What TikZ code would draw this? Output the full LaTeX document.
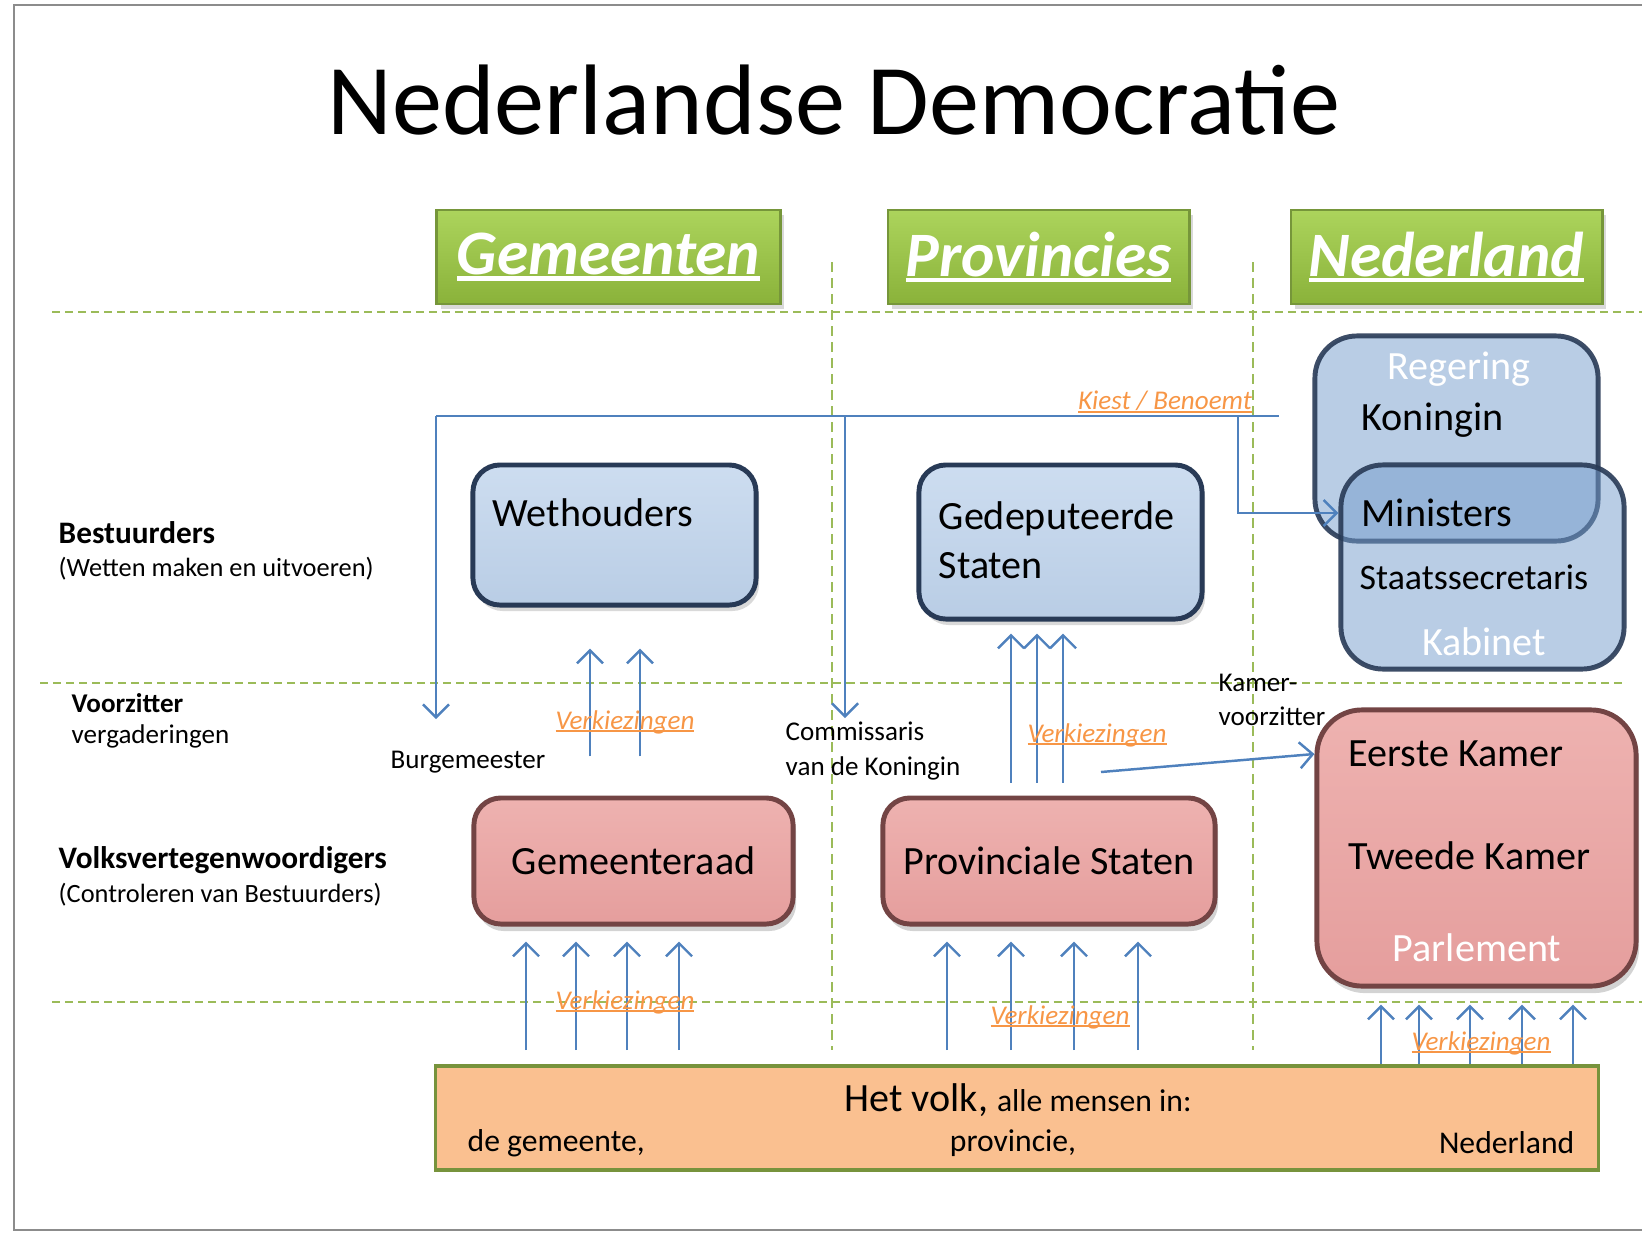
\documentclass[tikz,border=0pt]{standalone}
\usepackage{fontspec}
\setmainfont{Carlito}
\usepackage{tikz}
\usetikzlibrary{positioning,shadows,arrows.meta}
\definecolor{boxblue}{RGB}{185,205,229}
\definecolor{boxbluetop}{RGB}{205,221,240}
\definecolor{glassblue}{RGB}{115,155,203}
\definecolor{blueedge}{RGB}{40,58,86}
\definecolor{boxred}{RGB}{229,158,157}
\definecolor{boxredtop}{RGB}{238,178,176}
\definecolor{rededge}{RGB}{115,68,68}
\definecolor{lineblue}{RGB}{79,129,189}
\definecolor{dashgreen}{RGB}{155,187,89}
\definecolor{votecol}{RGB}{247,150,70}
\definecolor{peach}{RGB}{250,192,144}
\definecolor{peachedge}{RGB}{119,147,60}
\definecolor{headtop}{RGB}{172,212,92}
\definecolor{headbot}{RGB}{138,178,58}
\definecolor{headedge}{RGB}{118,150,58}
\definecolor{framegray}{RGB}{140,140,140}
\newcommand{\onderstreep}[2][0.06em]{\leavevmode\setbox0=\hbox{#2}\rlap{\rule[-0.1em]{\wd0}{#1}}\box0}

\begin{document}
\begin{tikzpicture}[x=0.01cm,y=-0.01cm,inner sep=0pt]
\tikzstyle{head}=[rectangle, minimum height=0.94cm, top color=headtop, bottom color=headbot, draw=headedge, line width=0.8pt, text=white, font=\fontsize{18pt}{20pt}\selectfont\bfseries\itshape, drop shadow={shadow xshift=0.4mm,shadow yshift=-0.5mm,opacity=0.3}]
\tikzstyle{bestuur}=[rectangle, rounded corners=0.27cm, top color=boxbluetop, bottom color=boxblue, draw=blueedge, line width=1.4pt, drop shadow={shadow xshift=0.3mm,shadow yshift=-0.6mm,opacity=0.3}]
\tikzstyle{glass}=[rectangle, rounded corners=0.42cm, fill=glassblue, fill opacity=0.5, draw=blueedge, draw opacity=0.9, line width=1.4pt]
\tikzstyle{vertegen}=[rectangle, rounded corners=0.27cm, top color=boxredtop, bottom color=boxred, draw=rededge, line width=1.4pt, font=\fontsize{11.4pt}{14pt}\selectfont, drop shadow={shadow xshift=0.3mm,shadow yshift=-0.7mm,opacity=0.35}]
\tikzstyle{txt}=[font=\fontsize{11.4pt}{14pt}\selectfont, anchor=west, align=left]
\tikzstyle{wtxt}=[font=\fontsize{11.4pt}{14pt}\selectfont, text=white]
\tikzstyle{small}=[font=\fontsize{7.7pt}{9.7pt}\selectfont, anchor=west, align=left]
\tikzstyle{rowhead}=[font=\fontsize{8.9pt}{10pt}\selectfont\bfseries, anchor=west]
\tikzstyle{rowsub}=[font=\fontsize{7.5pt}{9pt}\selectfont, anchor=west]
\tikzstyle{vote}=[font=\fontsize{7.7pt}{9pt}\selectfont\itshape, text=votecol]
\tikzstyle{connect}=[lineblue, line width=0.7pt, -{Straight Barb[length=1.3mm,width=2.6mm]}]
\tikzstyle{level}=[dashgreen, line width=0.8pt, dash pattern=on 0.08cm off 0.05cm]
\tikzstyle{column}=[dashgreen, line width=0.8pt, dash pattern=on 0.1cm off 0.06cm]
\useasboundingbox (0,0) rectangle (1642,1233);
\draw[framegray, line width=0.8pt] (1642,5) -- (14,5) -- (14,1230) -- (1642,1230);
\node[font=\fontsize{28.5pt}{34pt}\selectfont] (title) at (834,100) {Nederlandse Democratie};

% kolommen
\node[head, minimum width=3.43cm] (hgem) at (608.5,257) {\onderstreep[0.07em]{Gemeenten}};
\node[head, minimum width=3.01cm] (hprov) at (1038.5,257) {\onderstreep[0.07em]{Provincies}};
\node[head, minimum width=3.11cm] (hned) at (1446.5,257) {\onderstreep[0.07em]{Nederland}};
\draw[level] (52,312) -- (1642,312);
\draw[level] (40,683) -- (1623,683);
\draw[level] (52,1002) -- (1642,1002);
\draw[column] (832,262) -- (832,1050);
\draw[column] (1253,262) -- (1253,1050);

% rijen
\node[rowhead] (best) at (58,533) {Bestuurders};
\node[rowsub] (bestsub) at (58,569) {(Wetten maken en uitvoeren)};
\node[rowhead, font=\fontsize{7.7pt}{9pt}\selectfont\bfseries] (voorz) at (71,703) {Voorzitter};
\node[small] (verg) at (71,736) {vergaderingen};
\node[rowhead] (volksv) at (58,860) {Volksvertegenwoordigers};
\node[rowsub] (volksvsub) at (58,895) {(Controleren van Bestuurders)};

% bestuurders
\node[bestuur, minimum width=2.83cm, minimum height=1.40cm] (weth) at (614.5,535) {};
\node[txt] (wethtxt) at (492,513) {Wethouders};
\node[bestuur, minimum width=2.83cm, minimum height=1.54cm] (gs) at (1060.5,542) {};
\node[txt] (gstxt) at (938,540) {Gedeputeerde\\Staten};
\node[glass, minimum width=2.83cm, minimum height=2.05cm] (regering) at (1456.5,438.5) {};
\node[glass, minimum width=2.83cm, minimum height=2.04cm] (kabinet) at (1482.5,567) {};
\node[wtxt] (regtxt) at (1459,369) {Regering};
\node[txt] (kon) at (1361,420) {Koningin};
\node[txt] (min) at (1361,513) {Ministers};
\node[txt, font=\fontsize{10.2pt}{12pt}\selectfont] (staats) at (1359,577) {Staatssecretaris};
\node[wtxt] (kabtxt) at (1484,642) {Kabinet};

% volksvertegenwoordigers
\node[vertegen, minimum width=3.19cm, minimum height=1.26cm] (graad) at (633.5,861) {Gemeenteraad};
\node[vertegen, minimum width=3.32cm, minimum height=1.26cm] (pstaten) at (1049,861) {Provinciale Staten};
\node[vertegen, rounded corners=0.45cm, minimum width=3.19cm, minimum height=2.76cm] (parlement) at (1476.5,848) {};
\node[txt] (ek) at (1348,754) {Eerste Kamer};
\node[txt] (tk) at (1348,856) {Tweede Kamer};
\node[wtxt] (parltxt) at (1477,948) {Parlement};

% het volk
\node[rectangle, fill=peach, draw=peachedge, line width=1pt, minimum width=11.62cm, minimum height=1.04cm] (volk) at (1017,1118) {};
\node (volktxt) at (1018,1100) {\fontsize{11.4pt}{14pt}\selectfont Het volk, \fontsize{9pt}{11pt}\selectfont alle mensen in:};
\node[anchor=west, font=\fontsize{9pt}{11pt}\selectfont] (dgem) at (467,1143) {de gemeente,};
\node[font=\fontsize{9pt}{11pt}\selectfont] (dprov) at (1013,1143) {provincie,};
\node[anchor=east, font=\fontsize{9pt}{11pt}\selectfont] (dned) at (1575,1143) {Nederland};

% kiest / benoemt
\coordinate (kbl) at (436,416);
\coordinate (kbr) at (1279,416);
\coordinate (kbc) at (845,416);
\coordinate (kbn) at (1238,416);
\coordinate (burgtip) at (436,719);
\coordinate (cdktip) at (845,718);
\draw[lineblue, line width=0.7pt] (kbl) -- (kbr);
\draw[connect] (kbl) -- (burgtip);
\draw[connect] (kbc) -- (cdktip);
\draw[connect] (kbn) |- (min -| kabinet.west);
\node[vote] (kiest) at (1165,402) {\onderstreep{Kiest / Benoemt}};
\node[small] (burg) at (390,762) {Burgemeester};
\node[small] (cdk) at (785,751) {Commissaris\\van de Koningin};
\node[small] (kv) at (1218,700) {Kamer-\\voorzitter};
\coordinate (kvstart) at (1101,772);
\draw[connect] (kvstart) -- (ek -| parlement.west);

% verkiezingen
\foreach \x in {590,640}
  \draw[connect, shorten <=0.39cm, shorten >=0.41cm] (\x,0 |- graad.north) -- (\x,0 |- weth.south);
\foreach \x in {1011,1037,1063}
  \draw[connect, shorten <=0.13cm, shorten >=0.12cm] (\x,0 |- pstaten.north) -- (\x,0 |- gs.south);
\foreach \x in {526,576,627,679}
  \draw[connect, shorten <=0.14cm, shorten >=0.15cm] (\x,0 |- volk.north) -- (\x,0 |- graad.south);
\foreach \x in {947,1011,1074,1138}
  \draw[connect, shorten <=0.14cm, shorten >=0.15cm] (\x,0 |- volk.north) -- (\x,0 |- pstaten.south);
\foreach \x in {1381,1419,1470,1522,1573}
  \draw[connect, shorten >=0.16cm] (\x,0 |- volk.north) -- (\x,0 |- parlement.south);
\node[vote] (v1) at (625,722) {\onderstreep{Verkiezingen}};
\node[vote] (v2) at (1097,735) {\onderstreep{Verkiezingen}};
\node[vote] (v3) at (625,1002) {\onderstreep{Verkiezingen}};
\node[vote] (v4) at (1060,1017) {\onderstreep{Verkiezingen}};
\node[vote] (v5) at (1481,1043) {\onderstreep{Verkiezingen}};
\end{tikzpicture}
\end{document}
